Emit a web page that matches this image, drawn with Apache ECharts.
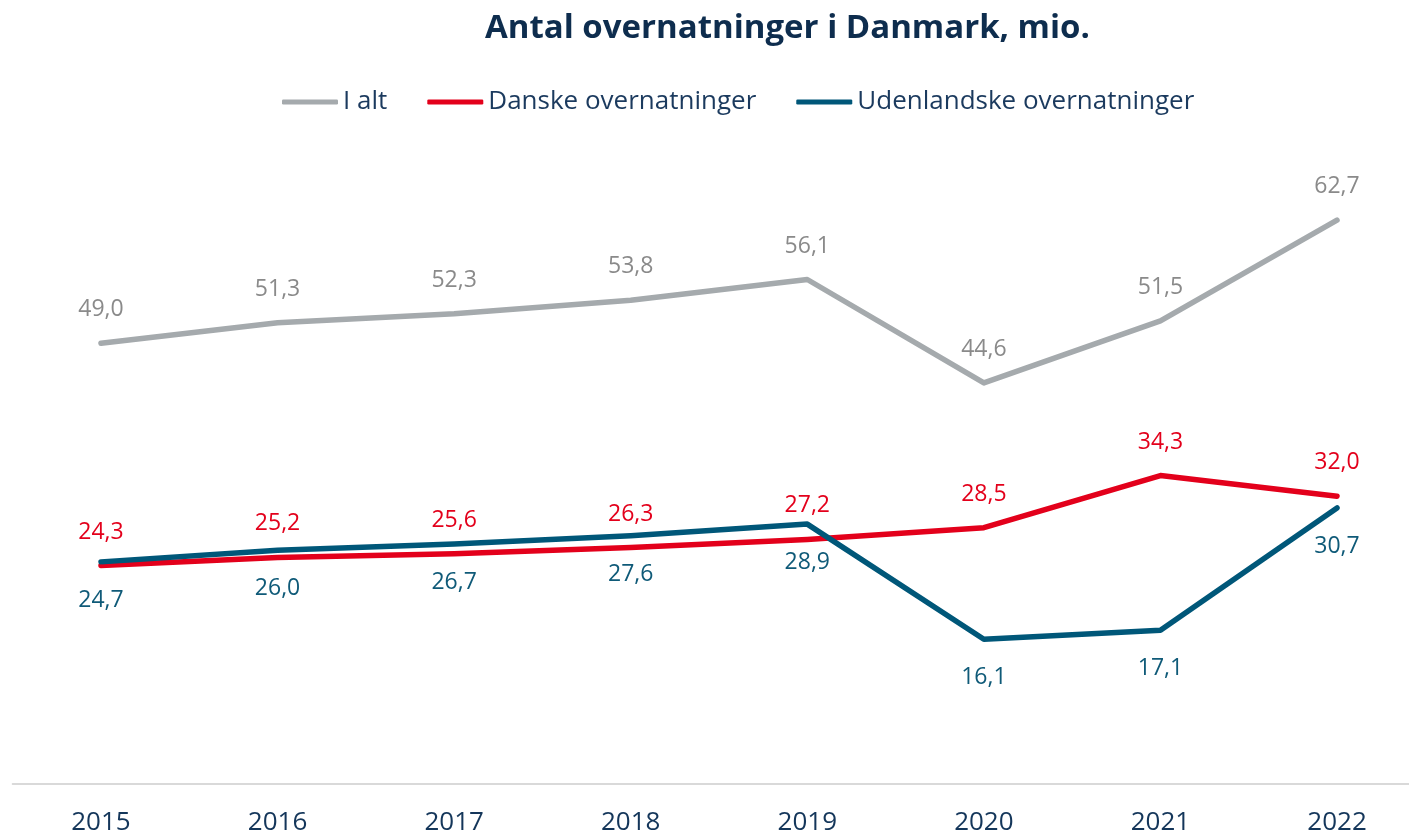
<!DOCTYPE html>
<html><head><meta charset="utf-8">
<script src="https://cdn.jsdelivr.net/npm/echarts@6/dist/echarts.min.js"></script>
<style>html,body{margin:0;padding:0;background:#fff;overflow:hidden}#c{width:1426px;height:836px}</style>
</head><body><div id="c"></div>
<script>
const years = ['2015','2016','2017','2018','2019','2020','2021','2022'];
const total = [49.0, 51.3, 52.3, 53.8, 56.1, 44.6, 51.5, 62.7];
const danish = [24.3, 25.2, 25.6, 26.3, 27.2, 28.5, 34.3, 32.0];
const foreign = [24.7, 26.0, 26.7, 27.6, 28.9, 16.1, 17.1, 30.7];
const seriesNames = ['I alt', 'Danske overnatninger', 'Udenlandske overnatninger'];

const FONT = 'Open Sans';
const fmt = p => p.value.toFixed(1).replace('.', ',');
function mk(name, data, color, labelColor, pos, dist) {
  return {
    name, type: 'line', data, smooth: false,
    symbol: 'circle', symbolSize: 2, showSymbol: true,
    lineStyle: { color, width: 5.5, cap: 'round', join: 'round' },
    itemStyle: { color },
    label: { show: true, position: pos, distance: dist, formatter: fmt,
      color: labelColor, fontFamily: FONT, fontSize: 23 },
    emphasis: { disabled: true }
  };
}
const chart = echarts.init(document.getElementById('c'));
chart.setOption({
  animation: false,
  title: { text: 'Antal overnatninger i Danmark, mio.', left: 480, top: 7,
    textStyle: { fontFamily: FONT, fontWeight: 'bold', fontSize: 33, color: '#0e2d4e' } },
  legend: { top: 84, left: 277, itemWidth: 56, itemHeight: 5, itemGap: 40, icon: 'roundRect',
    data: seriesNames,
    textStyle: { fontFamily: FONT, fontSize: 26, color: '#1b3a5e' } },
  grid: { left: 12.7, width: 1412.6, top: 154.5, bottom: 48 },
  xAxis: { type: 'category', data: years, boundaryGap: true,
    axisLine: { lineStyle: { color: '#d9d9d9', width: 2 } }, axisTick: { show: false },
    axisLabel: { margin: 26, fontFamily: FONT, fontSize: 26, color: '#14365a' } },
  yAxis: { type: 'value', min: 0, max: 70, show: false, splitLine: { show: false } },
  series: [
    mk(seriesNames[0], total, '#a5aaad', '#8a8a8a', 'top', 21),
    mk(seriesNames[1], danish, '#e3001b', '#e3001b', 'top', 21),
    mk(seriesNames[2], foreign, '#005779', '#0f5a78', 'bottom', 26)
  ]
});
</script></body></html>
